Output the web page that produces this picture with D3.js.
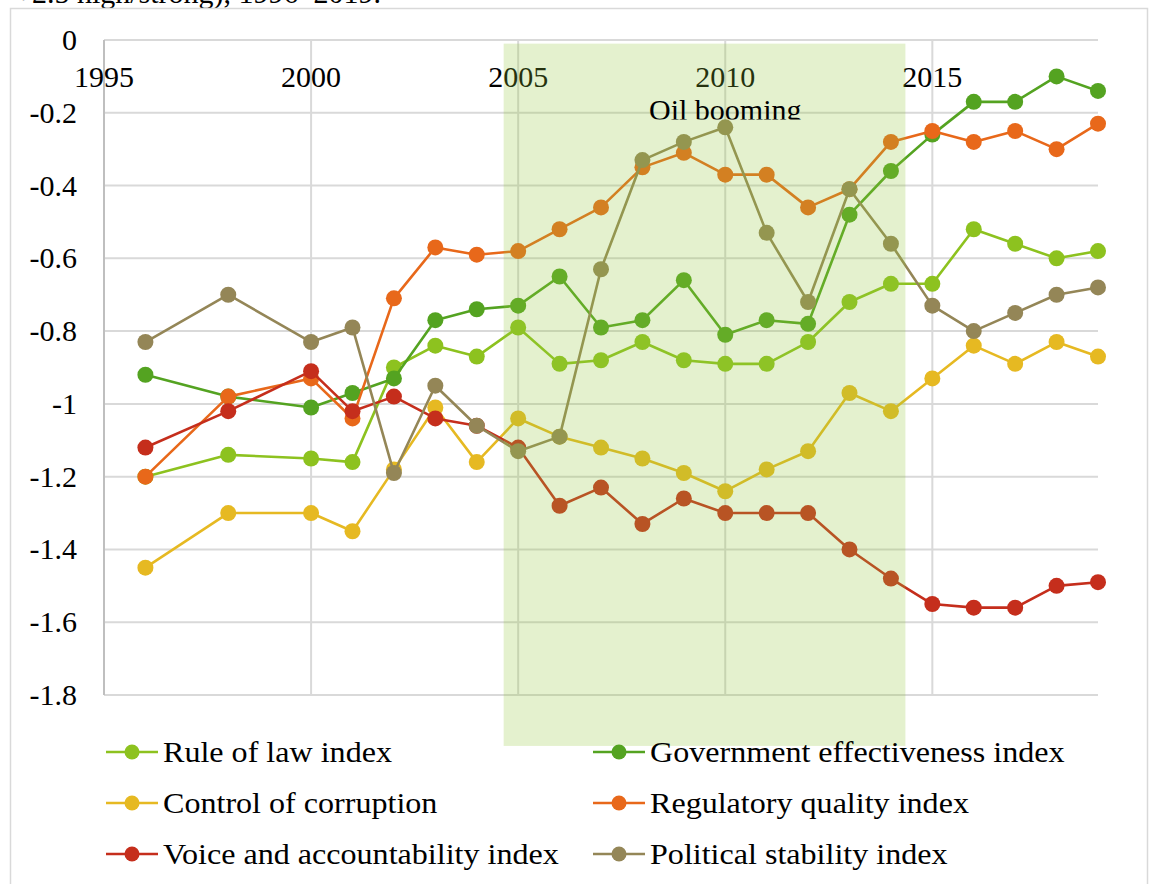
<!DOCTYPE html>
<html>
<head>
<meta charset="utf-8">
<script src="https://cdn.jsdelivr.net/npm/d3@7"></script>
<style>
  body { margin: 0; background: #fff; }
  text { font-family: "Liberation Serif", "Times New Roman", serif; fill: #000; }
</style>
</head>
<body>
<svg width="1150" height="884"></svg>
<script>
var years = [1996, 1998, 2000, 2001, 2002, 2003, 2004, 2005, 2006, 2007, 2008,
             2009, 2010, 2011, 2012, 2013, 2014, 2015, 2016, 2017, 2018, 2019];

var ruleOfLaw = [-1.20, -1.14, -1.15, -1.16, -0.90, -0.84, -0.87, -0.79, -0.89, -0.88, -0.83,
                 -0.88, -0.89, -0.89, -0.83, -0.72, -0.67, -0.67, -0.52, -0.56, -0.60, -0.58];
var govEffectiveness = [-0.92, -0.98, -1.01, -0.97, -0.93, -0.77, -0.74, -0.73, -0.65, -0.79, -0.77,
                        -0.66, -0.81, -0.77, -0.78, -0.48, -0.36, -0.26, -0.17, -0.17, -0.10, -0.14];
var corruption = [-1.45, -1.30, -1.30, -1.35, -1.18, -1.01, -1.16, -1.04, -1.09, -1.12, -1.15,
                  -1.19, -1.24, -1.18, -1.13, -0.97, -1.02, -0.93, -0.84, -0.89, -0.83, -0.87];
var regulatory = [-1.20, -0.98, -0.93, -1.04, -0.71, -0.57, -0.59, -0.58, -0.52, -0.46, -0.35,
                  -0.31, -0.37, -0.37, -0.46, -0.41, -0.28, -0.25, -0.28, -0.25, -0.30, -0.23];
var voice = [-1.12, -1.02, -0.91, -1.02, -0.98, -1.04, -1.06, -1.12, -1.28, -1.23, -1.33,
             -1.26, -1.30, -1.30, -1.30, -1.40, -1.48, -1.55, -1.56, -1.56, -1.50, -1.49];
var stability = [-0.83, -0.70, -0.83, -0.79, -1.19, -0.95, -1.06, -1.13, -1.09, -0.63, -0.33,
                 -0.28, -0.24, -0.53, -0.72, -0.41, -0.56, -0.73, -0.80, -0.75, -0.70, -0.68];

var seriesNames = ["Rule of law index", "Government effectiveness index", "Control of corruption",
                   "Regulatory quality index", "Voice and accountability index", "Political stability index"];
var seriesValues = [ruleOfLaw, govEffectiveness, corruption, regulatory, voice, stability];
var seriesColors = ["#8dc21f", "#54a321", "#e6b922", "#e8681a", "#c52e1c", "#948657"];

var xTicks = [1995, 2000, 2005, 2010, 2015];
var yTicks = [0, -0.2, -0.4, -0.6, -0.8, -1, -1.2, -1.4, -1.6, -1.8];

// shaded "Oil booming" period (years) and its vertical extent (index units)
var oilPeriod = [2004.65, 2014.35];
var oilSpan = [-0.01, -1.94];
var oilLabel = "Oil booming";

var caption = "+2.5 high/strong), 1996\u20132019.";

var svg = d3.select("svg");

var x = d3.scaleLinear().domain([1995, 2019]).range([104, 1098]),
    y = d3.scaleLinear().domain([-1.8, 0]).range([695, 40]);

// caption cut off at top of page
svg.append("text")
    .attr("x", 15)
    .attr("y", 3)
    .style("font-size", "30px")
    .text(caption);

// chart frame
svg.append("rect")
    .attr("x", 10.5)
    .attr("y", 8.5)
    .attr("width", 1137)
    .attr("height", 900)
    .attr("fill", "none")
    .attr("stroke", "#d9d9d9")
    .attr("stroke-width", 1.5);

var plot = svg.append("g");

// gridlines
plot.selectAll(".hgrid")
  .data(yTicks)
  .enter().append("line")
    .attr("class", "hgrid")
    .attr("x1", x(1995))
    .attr("x2", x(2019))
    .attr("y1", function(d) { return y(d); })
    .attr("y2", function(d) { return y(d); })
    .attr("stroke", "#d9d9d9")
    .attr("stroke-width", 2);

plot.selectAll(".vgrid")
  .data(xTicks.slice(1))
  .enter().append("line")
    .attr("class", "vgrid")
    .attr("x1", function(d) { return x(d); })
    .attr("x2", function(d) { return x(d); })
    .attr("y1", y(0))
    .attr("y2", y(-1.8))
    .attr("stroke", "#d9d9d9")
    .attr("stroke-width", 2);

// left axis line
plot.append("line")
    .attr("x1", x(1995))
    .attr("x2", x(1995))
    .attr("y1", y(0))
    .attr("y2", y(-1.8))
    .attr("stroke", "#bfbfbf")
    .attr("stroke-width", 2);

// tick labels
plot.selectAll(".ylab")
  .data(yTicks)
  .enter().append("text")
    .attr("class", "ylab")
    .attr("x", 77)
    .attr("y", function(d) { return y(d) + 10; })
    .attr("text-anchor", "end")
    .style("font-size", "30px")
    .text(function(d) { return d3.format("")(d).replace("\u2212", "-"); });

plot.selectAll(".xlab")
  .data(xTicks)
  .enter().append("text")
    .attr("class", "xlab")
    .attr("x", function(d) { return x(d); })
    .attr("y", 87)
    .attr("text-anchor", "middle")
    .style("font-size", "30px")
    .text(function(d) { return d; });

// series
var line = d3.line()
    .x(function(d) { return x(d.year); })
    .y(function(d) { return y(d.value); });

seriesValues.forEach(function(vals, i) {
  var pts = years.map(function(yr, j) { return {year: yr, value: vals[j]}; });
  var g = plot.append("g");
  g.append("path")
      .datum(pts)
      .attr("d", line)
      .attr("fill", "none")
      .attr("stroke", seriesColors[i])
      .attr("stroke-width", 2.6)
      .attr("stroke-linejoin", "round");
  g.selectAll("circle")
    .data(pts)
    .enter().append("circle")
      .attr("cx", function(d) { return x(d.year); })
      .attr("cy", function(d) { return y(d.value); })
      .attr("r", 8)
      .attr("fill", seriesColors[i]);
});

// oil booming shading (semi transparent, sits over the lines)
svg.append("rect")
    .attr("x", x(oilPeriod[0]))
    .attr("width", x(oilPeriod[1]) - x(oilPeriod[0]))
    .attr("y", y(oilSpan[0]))
    .attr("height", y(oilSpan[1]) - y(oilSpan[0]))
    .attr("fill", "#92c83c")
    .attr("fill-opacity", 0.25);

svg.append("clipPath")
    .attr("id", "oilclip")
  .append("rect")
    .attr("x", 600)
    .attr("y", 90)
    .attr("width", 250)
    .attr("height", 29.5);

svg.append("text")
    .attr("x", x(2010))
    .attr("y", y(-0.22))
    .attr("text-anchor", "middle")
    .attr("clip-path", "url(#oilclip)")
    .style("font-size", "30px")
    .text(oilLabel);

// legend, two columns
var legend = svg.selectAll(".legend")
  .data(seriesNames)
  .enter().append("g")
    .attr("class", "legend")
    .attr("transform", function(d, i) {
      return "translate(" + (i % 2 === 0 ? 106 : 593) + "," + (752 + Math.floor(i / 2) * 51) + ")";
    });

legend.append("line")
    .attr("x1", 0)
    .attr("x2", 52)
    .attr("stroke", function(d, i) { return seriesColors[i]; })
    .attr("stroke-width", 2.6);

legend.append("circle")
    .attr("cx", 26)
    .attr("r", 7.5)
    .attr("fill", function(d, i) { return seriesColors[i]; });

// legend labels are a bit wider in the original, stretch them slightly
legend.append("text")
    .attr("transform", "translate(57,10) scale(1.07,1)")
    .style("font-size", "30px")
    .text(function(d) { return d; });
</script>
</body>
</html>
